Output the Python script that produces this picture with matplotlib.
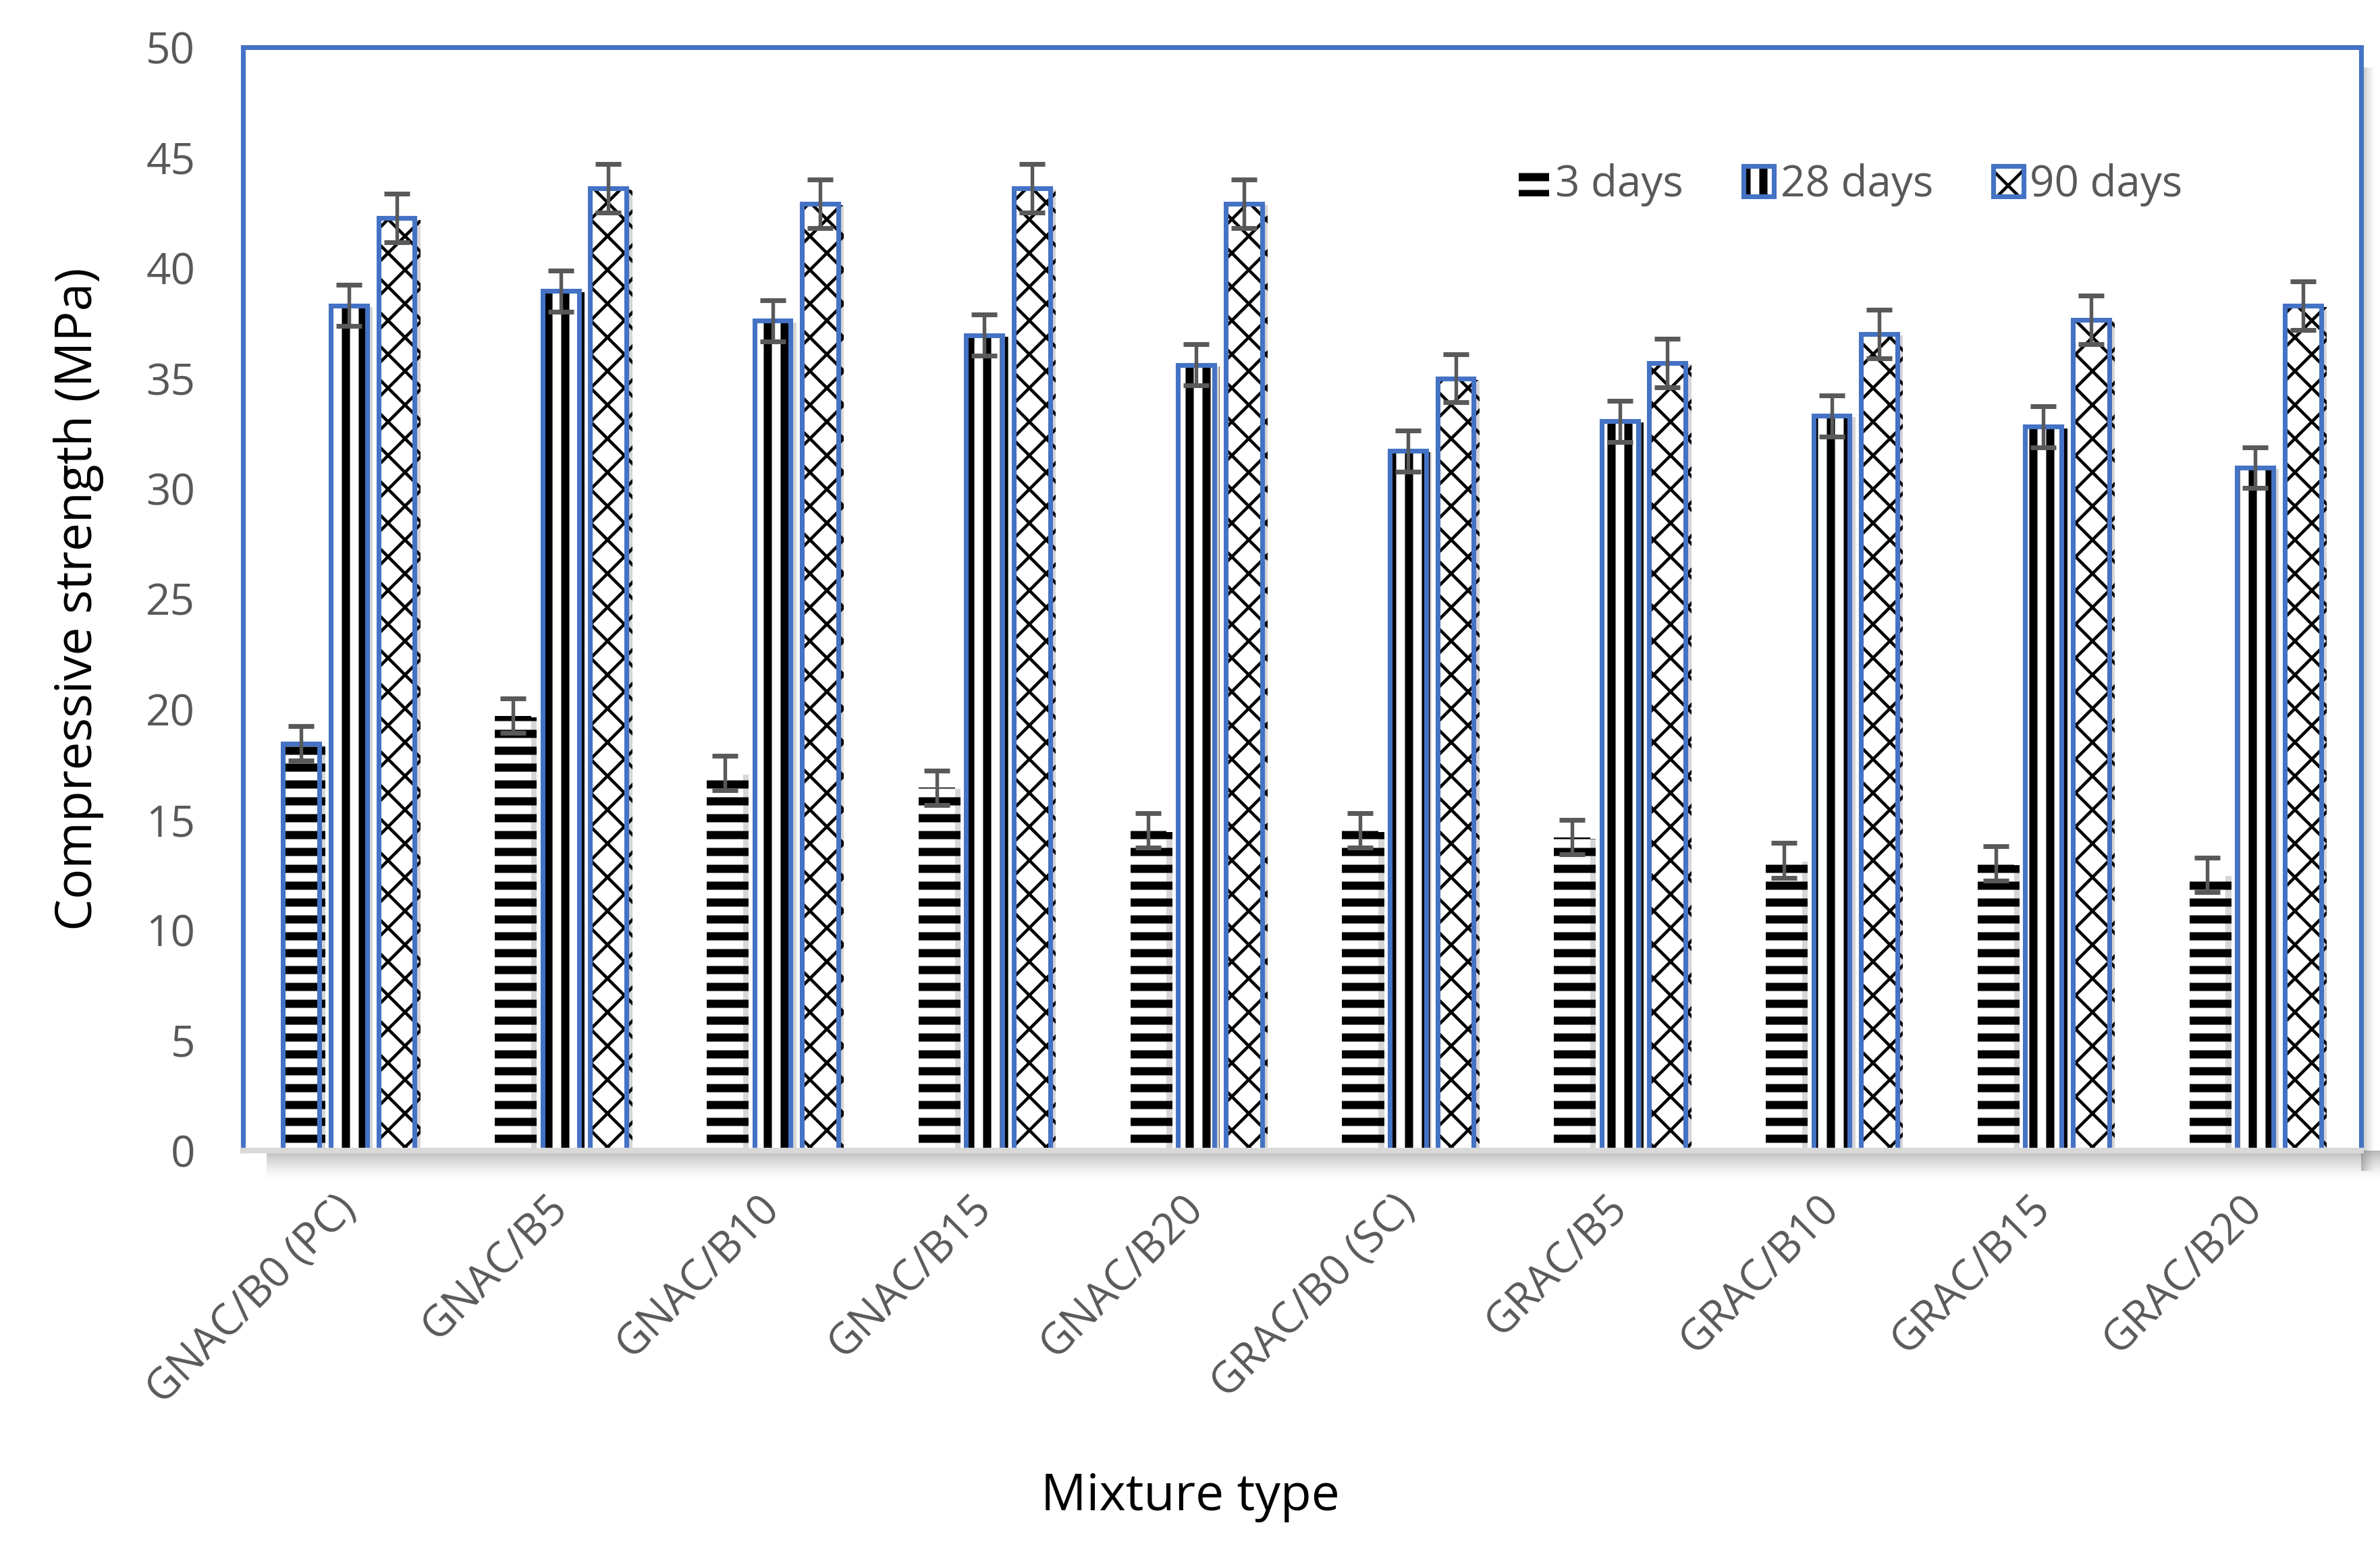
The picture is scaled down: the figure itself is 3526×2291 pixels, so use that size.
import numpy as np
import matplotlib
matplotlib.use("Agg")
import matplotlib.pyplot as plt
import matplotlib.patheffects as pe
from matplotlib.patches import Patch, Rectangle
from matplotlib.legend_handler import HandlerBase
from matplotlib.transforms import offset_copy

mixtures = ["GNAC/B0 (PC)", "GNAC/B5", "GNAC/B10", "GNAC/B15", "GNAC/B20",
            "GRAC/B0 (SC)", "GRAC/B5", "GRAC/B10", "GRAC/B15", "GRAC/B20"]
days_3 = [18.45, 19.7, 17.1, 16.45, 14.5, 14.5, 14.2, 13.15, 13.0, 12.5]
days_28 = [38.3, 38.95, 37.6, 36.95, 35.6, 31.7, 33.05, 33.3, 32.8, 30.95]
days_90 = [42.25, 43.6, 42.9, 43.6, 42.9, 35.0, 35.7, 37.0, 37.65, 38.3]
err_3 = [0.78, 0.78, 0.78, 0.78, 0.78, 0.78, 0.78, 0.78, 0.78, 0.78]
err_28 = [0.93, 0.93, 0.93, 0.93, 0.93, 0.93, 0.93, 0.93, 0.93, 0.93]
err_90 = [1.1, 1.1, 1.1, 1.1, 1.1, 1.1, 1.1, 1.1, 1.1, 1.1]
series_names = ["3 days", "28 days", "90 days"]

BLUE = "#4472c4"
GREY = "#595959"
FONT = "Open Sans"
DPI = 300
STRIPE_LW = 2.9
CROSS_LW = 1.1
EDGE_LW = 1.7


def hatched_bars(ax, x, vals, width, hatch, hatch_lw, edge):
    # black hatch layer first, blue outline drawn on top
    with plt.rc_context({"hatch.linewidth": hatch_lw}):
        bars = ax.bar(x, vals, width, color="white", edgecolor="black",
                      linewidth=0, hatch=hatch, zorder=2)
    for b in bars:
        if hasattr(b, "set_hatch_linewidth"):
            b.set_hatch_linewidth(hatch_lw)
        b.set_path_effects([pe.SimplePatchShadow(offset=(2.0, -0.5),
                                                 shadow_rgbFace="#bbbbbb",
                                                 alpha=0.6),
                            pe.Normal()])
    for i, b in enumerate(bars):
        if edge[i]:
            ax.bar(x[i], vals[i], width, color="none", edgecolor=BLUE,
                   linewidth=EDGE_LW, zorder=3)
    return bars


class SwatchHandler(HandlerBase):
    def __init__(self, hatch, hatch_lw, edge):
        super().__init__()
        self.hatch = hatch
        self.hatch_lw = hatch_lw
        self.edge = edge

    def create_artists(self, legend, orig_handle, xdescent, ydescent,
                       width, height, fontsize, trans):
        s = height * 1.0
        x0 = width - s
        y0 = -ydescent + (height - s) / 2
        with plt.rc_context({"hatch.linewidth": self.hatch_lw}):
            r = Rectangle((x0, y0), s, s, facecolor="white",
                          edgecolor="black", linewidth=0,
                          hatch=self.hatch, transform=trans)
        if hasattr(r, "set_hatch_linewidth"):
            r.set_hatch_linewidth(self.hatch_lw)
        arts = [r]
        if self.edge:
            arts.append(Rectangle((x0, y0), s, s, facecolor="none",
                                  edgecolor=BLUE, linewidth=EDGE_LW,
                                  transform=trans))
        return arts


def add_shadow(fig, rect, horizontal):
    # soft grey drop shadow strip next to the plot frame
    sax = fig.add_axes(rect, zorder=-1)
    ramp = np.linspace(1.0, 0.0, 60) ** 1.5
    if horizontal:
        img = ramp[:, None] * np.ones((1, 10))
    else:
        img = ramp[None, :] * np.ones((10, 1))
    rgba = np.zeros(img.shape + (4,))
    rgba[..., :3] = 0.45
    rgba[..., 3] = img * 0.5
    sax.imshow(rgba, aspect="auto", interpolation="bilinear")
    sax.axis("off")


def main():
    W, H = 3526, 2291
    fig = plt.figure(figsize=(W / DPI, H / DPI), dpi=DPI)
    l, b, r, t = 360 / W, 1 - 1705 / H, 3498 / W, 1 - 70 / H
    ax = fig.add_axes([l, b, r - l, t - b])
    add_shadow(fig, [l + 0.01, b - 45 / H, r - l, 45 / H], True)
    add_shadow(fig, [r, b - 30 / H, 22 / W, t - b], False)

    x = np.arange(len(mixtures))
    w = 0.172
    off = 0.225

    hatched_bars(ax, x - off, days_3, w, "--", STRIPE_LW,
                 [i == 0 for i in range(len(mixtures))])
    hatched_bars(ax, x, days_28, w, "||", STRIPE_LW, [True] * len(mixtures))
    hatched_bars(ax, x + off, days_90, w, "xx", CROSS_LW,
                 [True] * len(mixtures))

    ekw = dict(fmt="none", ecolor=GREY, elinewidth=1.3, capsize=4.6,
               capthick=1.7, zorder=4)
    ax.errorbar(x - off, days_3, yerr=err_3, **ekw)
    ax.errorbar(x, days_28, yerr=err_28, **ekw)
    ax.errorbar(x + off, days_90, yerr=err_90, **ekw)

    ax.set_xlim(-0.5, len(mixtures) - 0.5)
    ax.set_ylim(0, 50)
    ax.set_yticks(np.arange(0, 51, 5))
    ax.set_xticks(x)
    ax.set_xticklabels(mixtures, rotation=45, ha="right",
                       rotation_mode="anchor")
    ax.tick_params(axis="both", length=0, labelsize=15.3, labelcolor=GREY)
    ax.tick_params(axis="y", pad=17)
    ax.tick_params(axis="x", pad=13)
    for lab in ax.get_xticklabels():
        lab.set_fontfamily(FONT)
        lab.set_transform(offset_copy(lab.get_transform(), fig=fig,
                                      x=-22, y=0, units="dots"))
    for lab in ax.get_yticklabels():
        lab.set_fontfamily(FONT)

    for side in ["left", "right", "top"]:
        ax.spines[side].set_color(BLUE)
        ax.spines[side].set_linewidth(EDGE_LW)
    ax.spines["bottom"].set_color("#d9d9d9")
    ax.spines["bottom"].set_linewidth(2.0)
    ax.spines["bottom"].set_zorder(5)

    ax.set_ylabel("Compressive strength (MPa)", fontsize=18, family=FONT,
                  color="black", labelpad=15)
    fig.text(0.5, 1 - 2218 / H, "Mixture type", fontsize=18, family=FONT,
             color="black", ha="center", va="center")

    handles = [Patch(), Patch(), Patch()]
    hmap = {handles[0]: SwatchHandler("--", STRIPE_LW, False),
            handles[1]: SwatchHandler("||", STRIPE_LW, True),
            handles[2]: SwatchHandler("xx", CROSS_LW, True)}
    leg = ax.legend(handles, series_names, handler_map=hmap, ncol=3,
                    loc="upper left", bbox_to_anchor=(0.58, 0.93),
                    frameon=False, handlelength=0.9,
                    handletextpad=0.15, columnspacing=1.2,
                    prop={"family": FONT, "size": 15.3})
    for txt in leg.get_texts():
        txt.set_color(GREY)

    fig.savefig("out.png", dpi=DPI, facecolor="white")


if __name__ == "__main__":
    main()
